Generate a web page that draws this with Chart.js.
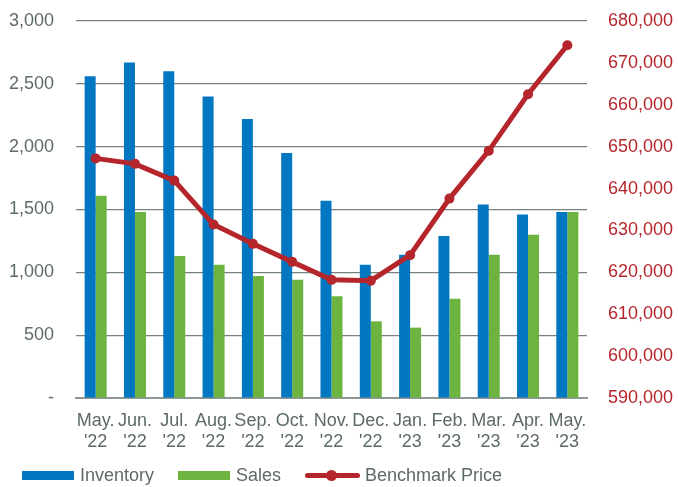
<!DOCTYPE html>
<html>
<head>
<meta charset="utf-8">
<script src="https://cdn.jsdelivr.net/npm/chart.js@4/dist/chart.umd.min.js"></script>
<style>
  html, body { margin: 0; padding: 0; background: #fff; }
  #wrap { position: relative; width: 678px; height: 487px; }
  #legend {
    position: absolute; left: 22px; top: 465px;
    display: flex; align-items: center;
    font-family: Arial, "Liberation Sans", sans-serif; font-size: 18px; color: #5d6b68;
  }
  .item { display: flex; align-items: center; margin-right: 24px; }
  .box { width: 52px; height: 9px; margin-right: 6px; }
  .ln { position: relative; width: 55px; height: 5px; margin-right: 5px; border-radius: 3px; }
  .ln .dot { position: absolute; left: 21px; top: -3px; width: 11px; height: 11px; border-radius: 50%; }
</style>
</head>
<body>
<div id="wrap">
  <canvas id="chart" width="678" height="487"></canvas>
  <div id="legend"></div>
</div>
<script>
// chart data
const months = [["May.", "'22"], ["Jun.", "'22"], ["Jul.", "'22"], ["Aug.", "'22"], ["Sep.", "'22"], ["Oct.", "'22"], ["Nov.", "'22"],
                ["Dec.", "'22"], ["Jan.", "'23"], ["Feb.", "'23"], ["Mar.", "'23"], ["Apr.", "'23"], ["May.", "'23"]];
const inventory = [2560, 2670, 2600, 2400, 2220, 1950, 1570, 1060, 1140, 1290, 1540, 1460, 1480];
const sales = [1610, 1480, 1130, 1060, 970, 940, 810, 610, 560, 790, 1140, 1300, 1480];
const benchmarkPrice = [647200, 645900, 641900, 631400, 626800, 622500, 618200, 618000, 624100, 637600, 649000, 662500, 674200];

const BLUE = '#0077c0';
const GREEN = '#6db33f';
const RED = '#b5262c';
const GREY = '#5d6b68';
const FONT = "Arial, 'Liberation Sans', sans-serif";

// fixed axis sizes so the plot area lands where the original one is
function fixY(width) {
    return (s) => {
        s.width = width;
        s.paddingTop = 0;
        s.paddingBottom = 0;
    };
}

const ctx = document.getElementById('chart').getContext('2d');

const chart = new Chart(ctx, {
    type: 'bar',
    data: {
        labels: months,
        datasets: [
            {
                type: 'line',
                label: 'Benchmark Price',
                data: benchmarkPrice,
                borderColor: RED,
                backgroundColor: RED,
                borderWidth: 5,
                pointRadius: 5,
                pointBorderWidth: 0,
                tension: 0,
                yAxisID: 'y2',
                order: 0,
            },
            {
                label: 'Inventory',
                data: inventory,
                backgroundColor: BLUE,
                categoryPercentage: 0.56,
                barPercentage: 1.0,
                yAxisID: 'y',
                order: 1,
            },
            {
                label: 'Sales',
                data: sales,
                backgroundColor: GREEN,
                categoryPercentage: 0.56,
                barPercentage: 1.0,
                yAxisID: 'y',
                order: 1,
            },
        ],
    },
    options: {
        responsive: false,
        animation: false,
        layout: { padding: { top: 21, bottom: 34, left: 0, right: 0 } },
        plugins: {
            legend: { display: false },
            tooltip: { enabled: false },
        },
        scales: {
            x: {
                grid: { display: false, drawTicks: false },
                border: { color: '#8c9693', width: 2 },
                ticks: { color: GREY, font: { family: FONT, size: 18 }, padding: 12, maxRotation: 0, autoSkip: false },
                afterFit: (s) => { s.height = 55; },
            },
            y: {
                position: 'left',
                min: 0,
                max: 3000,
                border: { display: false },
                grid: { color: '#76827f', lineWidth: 1.2, drawTicks: false },
                ticks: {
                    stepSize: 500,
                    color: GREY,
                    padding: 22,
                    font: { family: FONT, size: 18 },
                    callback: (v) => v === 0 ? '-' : v.toLocaleString('en-US'),
                },
                afterFit: fixY(76),
            },
            y2: {
                position: 'right',
                min: 590000,
                max: 680000,
                border: { display: false },
                grid: { drawOnChartArea: false, drawTicks: false },
                ticks: {
                    stepSize: 10000,
                    color: RED,
                    padding: 21,
                    font: { family: FONT, size: 18 },
                    callback: (v) => v.toLocaleString('en-US'),
                },
                afterFit: fixY(91),
            },
        },
    },
});

// legend in page
const legend = document.getElementById('legend');
[
    { label: 'Inventory', color: BLUE, kind: 'box' },
    { label: 'Sales', color: GREEN, kind: 'box' },
    { label: 'Benchmark Price', color: RED, kind: 'line' },
].forEach((it) => {
    const item = document.createElement('div');
    item.className = 'item';
    const mark = document.createElement('div');
    if (it.kind === 'box') {
        mark.className = 'box';
        mark.style.background = it.color;
    } else {
        mark.className = 'ln';
        mark.style.background = it.color;
        const dot = document.createElement('div');
        dot.className = 'dot';
        dot.style.background = it.color;
        mark.appendChild(dot);
    }
    const txt = document.createElement('span');
    txt.textContent = it.label;
    item.appendChild(mark);
    item.appendChild(txt);
    legend.appendChild(item);
});
</script>
</body>
</html>
